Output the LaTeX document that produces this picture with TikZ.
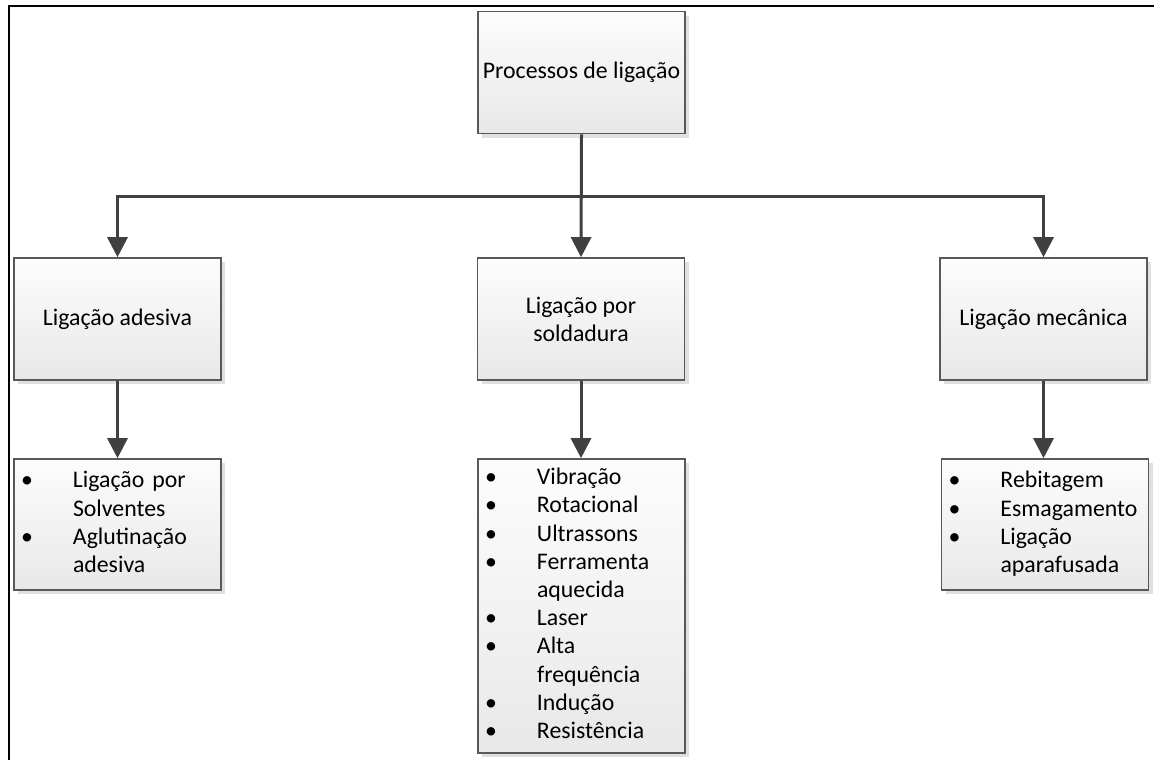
\documentclass[tikz,border=0pt]{standalone}
\usepackage{fontspec}
\setmainfont{Carlito}
\usepackage{array}
\usetikzlibrary{arrows.meta,positioning,shadows}
\tikzset{>={Triangle[width=10pt,length=10pt]},node distance=2cm}
\tikzset{
  proc/.style={rectangle,draw=black!65,line width=0.8pt,
    top color=black!1,bottom color=black!9,
    general shadow={fill=black!12,shadow xshift=2pt,shadow yshift=-2pt},
    minimum width=103.5pt,minimum height=61pt,inner sep=0pt,align=center,
    font=\fontsize{11.9}{14.1}\selectfont},
  lst/.style={proc,text width=103.5pt,align=left},
  conn/.style={->,draw=black!75,line width=1.5pt}
}
\newcommand{\blist}[1]{\begin{tabular}{@{\hspace{3.5pt}}p{26pt}@{}l@{}}#1\end{tabular}}

\begin{document}
\begin{tikzpicture}[x=0.5pt,y=-0.5pt]
  \useasboundingbox (0,0) rectangle (1154,760);
  \draw[line width=1pt] (9,760) -- (9,6) -- (1154,6);

  \node[proc] (top)  at (581.5,72.5) {Processos de ligação};
  \node[proc] (adh)  at (117.5,319)  {Ligação adesiva};
  \node[proc] (sold) at (581,319)    {Ligação por\\soldadura};
  \node[proc] (mec)  at (1043.5,319) {Ligação mecânica};

  \node[lst,minimum height=65.5pt] (adhlist) at (117.5,524.5)
    {\blist{\textbullet & Ligação por\\ & Solventes\\ \textbullet & Aglutinação\\ & adesiva}};
  \node[lst,minimum height=147pt] (soldlist) at (581.5,606)
    {\blist{\textbullet & Vibração\\ \textbullet & Rotacional\\ \textbullet & Ultrassons\\
      \textbullet & Ferramenta\\ & aquecida\\ \textbullet & Laser\\ \textbullet & Alta\\
      & frequência\\ \textbullet & Indução\\ \textbullet & Resistência}};
  \node[lst,minimum height=65.5pt] (meclist) at (1045,524.5)
    {\blist{\textbullet & Rebitagem\\ \textbullet & Esmagamento\\ \textbullet & Ligação\\ & aparafusada}};

  \coordinate (bus) at (581,196);
  \draw[conn] (top.south) -- (sold.north);
  \draw[conn] (bus) -| (adh.north);
  \draw[conn] (bus) -| (mec.north);
  \draw[conn] (adh.south) -- (adhlist.north -| adh.south);
  \draw[conn] (sold.south) -- (soldlist.north -| sold.south);
  \draw[conn] (mec.south) -- (meclist.north -| mec.south);
\end{tikzpicture}
\end{document}
